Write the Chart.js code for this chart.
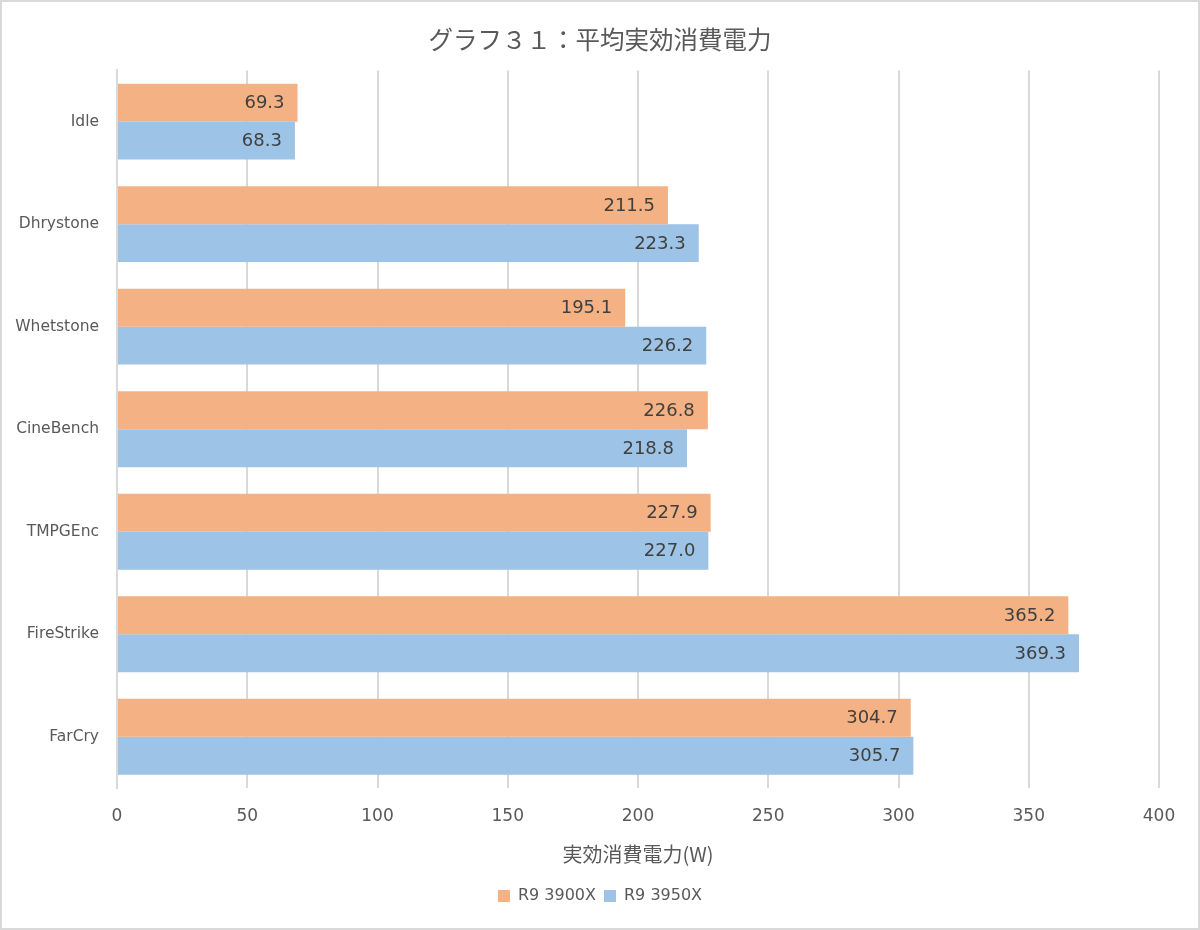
<!DOCTYPE html>
<html>
<head>
<meta charset="utf-8">
<script src="https://cdn.jsdelivr.net/npm/chart.js@4"></script>
<style>
  html, body { margin: 0; padding: 0; background: #fff; }
  #chart { display: block; }
</style>
</head>
<body>
<canvas id="chart" width="1200" height="930"></canvas>
<script>
const categories = ['Idle', 'Dhrystone', 'Whetstone', 'CineBench', 'TMPGEnc', 'FireStrike', 'FarCry'];
const seriesNames = ['R9 3900X', 'R9 3950X'];
const r9_3900x = [69.3, 211.5, 195.1, 226.8, 227.9, 365.2, 304.7];
const r9_3950x = [68.3, 223.3, 226.2, 218.8, 227.0, 369.3, 305.7];
const xTicks = [0, 50, 100, 150, 200, 250, 300, 350, 400];

const FONT = '"DejaVu Sans", "Noto Sans CJK JP", sans-serif';
const FONT_JP = '"Noto Sans CJK JP", "Noto Sans", sans-serif';
const TEXT_GRAY = '#595959';

// white background + thin frame round the whole picture
const framePlugin = {
    id: 'frame',
    beforeDraw(chart) {
        const ctx = chart.ctx;
        ctx.save();
        ctx.fillStyle = '#ffffff';
        ctx.fillRect(0, 0, chart.width, chart.height);
        ctx.strokeStyle = '#d9d9d9';
        ctx.lineWidth = 2;
        ctx.strokeRect(1, 1, chart.width - 2, chart.height - 2);
        ctx.restore();
    }
};

// value labels drawn inside the end of each bar
const valueLabels = {
    id: 'valueLabels',
    afterDatasetsDraw(chart) {
        const ctx = chart.ctx;
        ctx.save();
        ctx.font = '18px ' + FONT;
        ctx.fillStyle = '#404040';
        ctx.textAlign = 'right';
        ctx.textBaseline = 'middle';
        chart.data.datasets.forEach((ds, i) => {
            chart.getDatasetMeta(i).data.forEach((bar, j) => {
                ctx.fillText(ds.data[j].toFixed(1), bar.x - 13, bar.y + 1);
            });
        });
        ctx.restore();
    }
};

new Chart(document.getElementById('chart'), {
    type: 'bar',
    data: {
        labels: categories,
        datasets: [
            { label: seriesNames[0], data: r9_3900x, backgroundColor: '#F4B183' },
            { label: seriesNames[1], data: r9_3950x, backgroundColor: '#9DC3E6' }
        ]
    },
    options: {
        indexAxis: 'y',
        responsive: false,
        animation: false,
        devicePixelRatio: 1,
        layout: { padding: { left: 0, right: 0, top: 0, bottom: 16 } },
        datasets: {
            bar: { categoryPercentage: 0.74, barPercentage: 1.0 }
        },
        scales: {
            x: {
                min: 0,
                max: 400,
                afterBuildTicks: axis => { axis.ticks = xTicks.map(v => ({ value: v })); },
                afterFit: scale => { scale.height = 92; },
                grid: { color: '#d9d9d9', lineWidth: 2, drawTicks: false },
                border: { display: false },
                ticks: { color: TEXT_GRAY, font: { family: FONT, size: 17 }, padding: 18 },
                title: {
                    display: true,
                    text: '実効消費電力(W)',
                    color: TEXT_GRAY,
                    font: { family: FONT_JP, size: 20 },
                    padding: { top: 0, bottom: 14 }
                }
            },
            y: {
                grid: { display: false, drawTicks: false },
                border: { display: true, color: '#d9d9d9', width: 2 },
                ticks: { color: TEXT_GRAY, font: { family: FONT, size: 15.5 }, padding: 18 },
                afterFit: scale => { scale.width = 117; }
            },
            // empty right-hand spacer so the plot ends at 400 like the reference
            spacer: {
                type: 'category',
                axis: 'y',
                position: 'right',
                grid: { display: false, drawTicks: false },
                border: { display: false },
                ticks: { display: false },
                afterFit: scale => { scale.width = 41; }
            }
        },
        plugins: {
            title: {
                display: true,
                text: 'グラフ３１：平均実効消費電力',
                color: TEXT_GRAY,
                font: { family: FONT_JP, size: 24.5, weight: 'normal' },
                padding: { top: 25, bottom: 16 }
            },
            legend: {
                position: 'bottom',
                labels: {
                    color: TEXT_GRAY,
                    font: { family: FONT, size: 16 },
                    boxWidth: 12,
                    boxHeight: 12,
                    padding: 8
                }
            },
            tooltip: { enabled: false }
        }
    },
    plugins: [framePlugin, valueLabels]
});
</script>
</body>
</html>
